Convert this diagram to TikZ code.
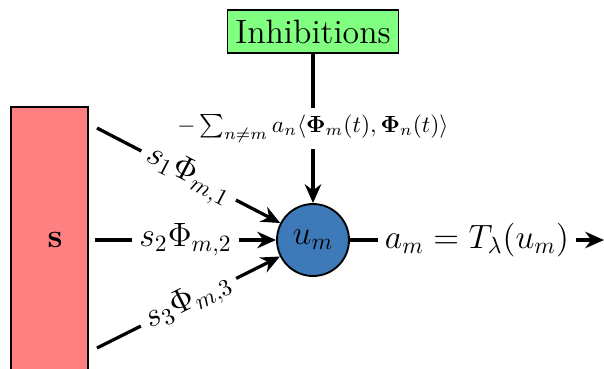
\documentclass[tikz,border=0pt]{standalone}
\usepackage{amsmath}
\usepackage{amssymb}
\usepackage{bm}
\usetikzlibrary{positioning, arrows.meta}

\definecolor{inputred}{RGB}{255,128,128}
\definecolor{inhibgreen}{RGB}{128,255,128}
\definecolor{neuronblue}{RGB}{62,122,185}

\begin{document}
\begin{tikzpicture}[
    x=0.015cm, y=-0.015cm,
    font=\Large,
    box/.style={draw, thick},
    neuron/.style={draw, thick, circle, fill=neuronblue, minimum size=72*0.015cm, inner sep=0pt},
    wire/.style={draw, line width=1.4pt},
    arrowed/.style={wire, -{Stealth[length=8pt, width=7pt]}},
    lbl/.style={fill=white, inner sep=3pt},
]
  \useasboundingbox (0,0) rectangle (604,368);
  \node[box, fill=inputred, minimum width=77*0.015cm, minimum height=280*0.015cm, anchor=north west] (input) at (10,106) {};
  \node at (55,240) {$\mathbf{s}$};
  \node[box, fill=inhibgreen, minimum width=171*0.015cm, minimum height=43*0.015cm, inner sep=1pt] (inhib) at (313,31.5) {Inhibitions};
  \node[neuron] (um) at (313,240) {$u_m$};

  \coordinate (in1) at (97,128);
  \coordinate (in2) at (95,240);
  \coordinate (in3) at (97,348);
  \coordinate (out) at (604,240);

  \path (in1) edge[arrowed] node[lbl, sloped] {$s_1\Phi_{m,1}$} (um);
  \path (in2) edge[arrowed] node[lbl] {$s_2\Phi_{m,2}$} (um);
  \path (in3) edge[arrowed] node[lbl, sloped] {$s_3\Phi_{m,3}$} (um);
  \path (inhib) edge[arrowed] node[lbl, font=\normalsize] {$-\sum_{n\neq m} a_n\langle\bm{\Phi}_m(t),\bm{\Phi}_n(t)\rangle$} (um);
  \path (um) edge[arrowed] node[lbl] {$a_m = T_\lambda(u_m)$} (out);
\end{tikzpicture}
\end{document}
